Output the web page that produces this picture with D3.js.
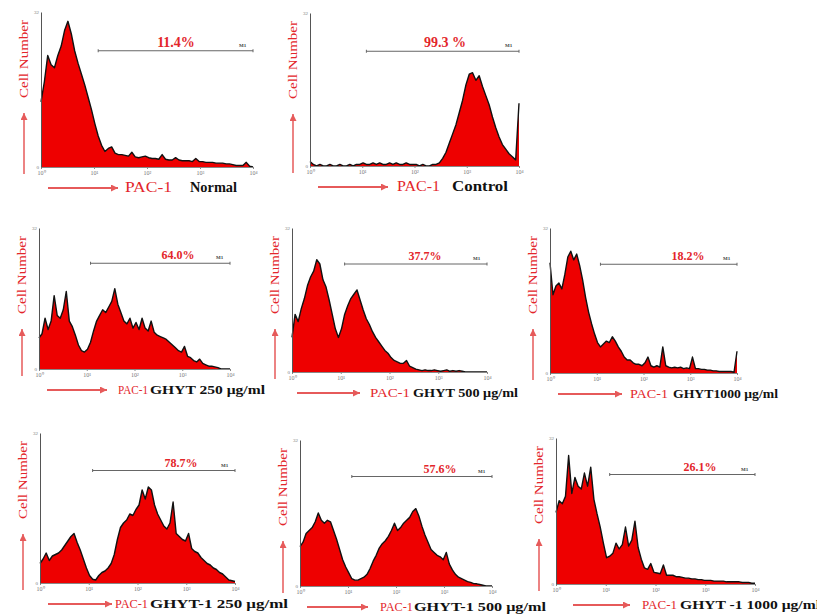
<!DOCTYPE html>
<html>
<head>
<meta charset="utf-8">
<script src="https://cdn.jsdelivr.net/npm/d3@7"></script>
<style>
  body { margin:0; background:#fff; }
  svg { display:block; font-family:"Liberation Serif","Times New Roman",serif; }
</style>
</head>
<body>
<script>
// ---- data (bin heights in % of full scale, 64 channels over 4 decades) ----
var tickLabels = ["10\u2070", "10\u00b9", "10\u00b2", "10\u00b3", "10\u2074"];
var yTickLabels = ["0", "32"];
var percentLabels = ["11.4%", "99.3 %", "64.0%", "37.7%", "18.2%", "78.7%", "57.6%", "26.1%"];
var conditionLabels = ["Normal", "Control", "GHYT 250 \u03bcg/ml", "GHYT 500 \u03bcg/ml", "GHYT1000 \u03bcg/ml",
                       "GHYT-1 250 \u03bcg/ml", "GHYT-1 500 \u03bcg/ml", "GHYT -1 1000 \u03bcg/ml"];
var yLabel = "Cell Number", xLabel = "PAC-1", markerLabel = "M1";
var gateStart = 12, gateLevel = 75;

var normalCounts = [42,55,72,66,64,72,78,88,94,86, 75,67,60,53,45,37,28,20,14,10,
  12,13,9,8,8,7.5,7,9.5,6.5,6, 6.5,7,6,5.5,5.5,5,8,5,4.5,4.5, 6,4.5,4,4,4,3.5,5.5,3.5,3.5,3,
  3,3,2.5,2.5,2.5,2,2,1.5,1,1, 1,3,0.5,0];
var controlCounts = [3,1,0,1,0,0,1,0,0,1, 0,0,1,0,1,1,2,1,1,2, 1,2,1,1,2,1,2,1,1,2,
  1,1,1,0,1,0,0,1,1, 2,5,9,15,21,27,35,43,53,60, 61,56,59,52,46,40,32,25,19,14, 11,8,6,4,41];
var ghyt250Counts = [22,25,36,28,34,52,38,36,42,55, 34,30,24,17,13,12,14,19,27,34,
  38,42,40,44,48,57,46,40,34,32, 36,29,33,28,36,29,27,34,26,24, 23,22,21,19,17,15,13,12,16,9,
  8,6,5,7,4,3,2,2,1.5,1, 0,0,0,0];
var ghyt500Counts = [24,40,35,44,51,60,66,70,78,75, 64,59,50,40,30,24,30,40,46,51,
  54,57,50,43,37,33,28,24,21,18, 15,13,10,8,7,6,6,8,4,3, 2,1.5,1,1.5,1,1,1.5,1,0.5,1,
  1.5,0.5,1,0.5,1,0.5,0,0,0,0, 0,0,0,0];
var ghyt1000Counts = [76,54,60,62,58,68,80,84,78,82, 74,64,52,42,34,27,21,18,20,22,
  21,25,22,18,15,11,9,9,7,6, 6,5,7,11,5,4,5,4,18,5, 4,3.5,4,3.5,4,3,3.5,3,11,3,
  3,2.5,2.5,2,2,1.5,1.5,1,1,1, 1,1,0.5,15];
var ghyt1_250Counts = [13,16,20,15,18,19,20,22,25,28, 31,33,27,22,16,10,5,2.5,2,5,
  7,8,10,13,19,29,37,40,42,46, 45,49,52,62,56,64,62,52,46,42, 38,36,40,54,33,31,29,28,33,23,
  21,20,17,15,13,12,10,9,7,6, 4,2,1.5,1];
var ghyt1_500Counts = [27,30,36,38,40,44,50,45,43,45, 44,38,32,25,18,13,9,5,4,4,
  5,6,8,12,17,21,26,29,31,34, 38,43,38,40,43,45,47,51,53,48, 41,35,30,25,23,21,20,18,23,15,
  11,8,6,5,4,3,2.5,1.6,1.5,1, 0.5,0,0,0];
var ghyt1_1000Counts = [49,57,55,60,88,62,73,67,65,76, 67,80,58,48,39,28,18,19,21,28,
  24,27,39,26,30,43,25,17,11,10, 14,8,7.5,7,13,6,6,6,5,5, 4.5,4,4,3.5,3.5,3,3,2.5,2.5,2.5,
  2,2,2,2,1.5,1.5,1.5,1.5,1.5,1, 1,1,0.5,0.5];

var allCounts = [normalCounts, controlCounts, ghyt250Counts, ghyt500Counts, ghyt1000Counts,
                 ghyt1_250Counts, ghyt1_500Counts, ghyt1_1000Counts];

// ---- panel placement ----
var layout = [
  {x0:41,  x1:253, top:12,  base:167, big:true,  arrow:[48,118],  pacX:125, pacW:47, condX:190, condW:47,  pctX:176},
  {x0:310, x1:519, top:13,  base:166, big:true,  arrow:[318,388], pacX:397, pacW:43, condX:452, condW:56,  pctX:445},
  {x0:39,  x1:230, top:228, base:369, big:false, arrow:[47,107],  pacX:118, pacW:30, condX:150, condW:115, pctX:178},
  {x0:292, x1:487, top:228, base:372, big:false, arrow:[297,360], pacX:370, pacW:40, condX:413, condW:105, pctX:425},
  {x0:550, x1:737, top:228, base:373, big:false, arrow:[558,622], pacX:630, pacW:38, condX:673, condW:105, pctX:688},
  {x0:40,  x1:235, top:433, base:583, big:false, arrow:[48,112],  pacX:115, pacW:33, condX:150, condW:138, pctX:181},
  {x0:300, x1:492, top:440, base:586, big:false, arrow:[307,368], pacX:380, pacW:33, condX:414, condW:132, pctX:440},
  {x0:556, x1:755, top:438, base:584, big:false, arrow:[573,630], pacX:642, pacW:35, condX:680, condW:140, pctX:700}
];

var red = "#ee0000", textRed = "#e3262b", arrowRed = "#e65a5a";

var svg = d3.select("body").append("svg")
    .attr("width", 817).attr("height", 615);

// arrow head, tip at the end of the line
svg.append("defs").append("marker").attr("id", "head")
    .attr("viewBox", "0 0 10 10").attr("refX", 10).attr("refY", 5)
    .attr("markerWidth", 8).attr("markerHeight", 7).attr("markerUnits", "userSpaceOnUse")
    .attr("orient", "auto")
  .append("path").attr("d", "M0,0L10,5L0,10Z").attr("fill", arrowRed);

layout.forEach(function(p, k) {
  var counts = allCounts[k];
  var g = svg.append("g");

  var x = d3.scaleLog().domain([1, 1e4]).range([p.x0, p.x1]);
  var y = d3.scaleLinear().domain([0, 100]).range([p.base, p.top]);
  var channel = function(d, i) { return x(Math.pow(10, i * 4 / (counts.length - 1))); };

  // histogram
  g.append("path").datum(counts)
    .attr("fill", red)
    .attr("d", d3.area().x(channel).y0(p.base).y1(function(d) { return y(d); }));
  g.append("path").datum(counts)
    .attr("fill", "none").attr("stroke", "#111").attr("stroke-width", 1.4)
    .attr("stroke-linejoin", "round")
    .attr("d", d3.line().x(channel).y(function(d) { return y(d); }));

  // axes
  var xa = g.append("g").attr("transform", "translate(0," + p.base + ")")
    .call(d3.axisBottom(x).tickValues([1, 10, 100, 1000, 10000])
      .tickFormat(function(d, i) { return tickLabels[i]; })
      .tickSize(2).tickSizeOuter(0));
  xa.select(".domain").attr("stroke", "#888");
  xa.selectAll(".tick line").attr("stroke", "#888");
  xa.selectAll("text").attr("font-size", 6).attr("fill", "#777").attr("dy", "0.5em")
    .attr("font-family", "Liberation Serif, serif");

  var ya = g.append("g").attr("transform", "translate(" + p.x0 + ",0)")
    .call(d3.axisLeft(y).tickValues([0, 100])
      .tickFormat(function(d, i) { return yTickLabels[i]; })
      .tickSize(0).tickSizeOuter(0).tickPadding(2));
  ya.select(".domain").attr("stroke", "#555");
  ya.selectAll("text").attr("font-size", 5).attr("fill", "#777")
    .attr("font-family", "Liberation Serif, serif");

  // gate
  var gy = y(gateLevel), gx0 = x(gateStart), gx1 = x(1e4);
  g.append("line").attr("x1", gx0).attr("x2", gx1).attr("y1", gy).attr("y2", gy)
    .attr("stroke", "#666").attr("stroke-width", 1);
  [gx0, gx1].forEach(function(v) {
    g.append("line").attr("x1", v).attr("x2", v).attr("y1", gy - 1.5).attr("y2", gy + 1.5)
      .attr("stroke", "#666");
  });
  g.append("text").attr("x", gx1 - 14).attr("y", gy - 4)
    .attr("font-size", 5).attr("font-weight", "bold").attr("fill", "#444")
    .text(markerLabel);
  g.append("text").attr("x", p.pctX).attr("y", gy - 4)
    .attr("text-anchor", "middle").attr("font-weight", "bold")
    .attr("font-size", p.big ? 14 : 12).attr("fill", textRed)
    .text(percentLabels[k]);

  // y label with upward arrow
  var lx = p.x0 - 17;
  g.append("text")
    .attr("transform", "translate(" + (lx + 4) + "," + (p.top + 47) + ") rotate(-90)")
    .attr("text-anchor", "middle").attr("font-size", 13).attr("fill", textRed)
    .attr("textLength", 78).attr("lengthAdjust", "spacingAndGlyphs")
    .text(yLabel);
  g.append("line").attr("x1", lx).attr("x2", lx)
    .attr("y1", p.base + 7).attr("y2", p.top + 101)
    .attr("stroke", arrowRed).attr("stroke-width", 1.5)
    .attr("marker-end", "url(#head)");

  // x label with arrow
  var ay = p.base + 21;
  g.append("line").attr("x1", p.arrow[0]).attr("x2", p.arrow[1])
    .attr("y1", ay).attr("y2", ay)
    .attr("stroke", arrowRed).attr("stroke-width", 2)
    .attr("marker-end", "url(#head)");
  g.append("text").attr("x", p.pacX).attr("y", ay + 4)
    .attr("font-size", p.big ? 15 : 12).attr("fill", textRed)
    .attr("textLength", p.pacW).attr("lengthAdjust", "spacingAndGlyphs")
    .text(xLabel);
  g.append("text").attr("x", p.condX).attr("y", ay + 4)
    .attr("font-size", p.big ? 14 : 12).attr("font-weight", "bold").attr("fill", "#111")
    .attr("textLength", p.condW).attr("lengthAdjust", "spacingAndGlyphs")
    .text(conditionLabels[k]);
});
</script>
</body>
</html>
